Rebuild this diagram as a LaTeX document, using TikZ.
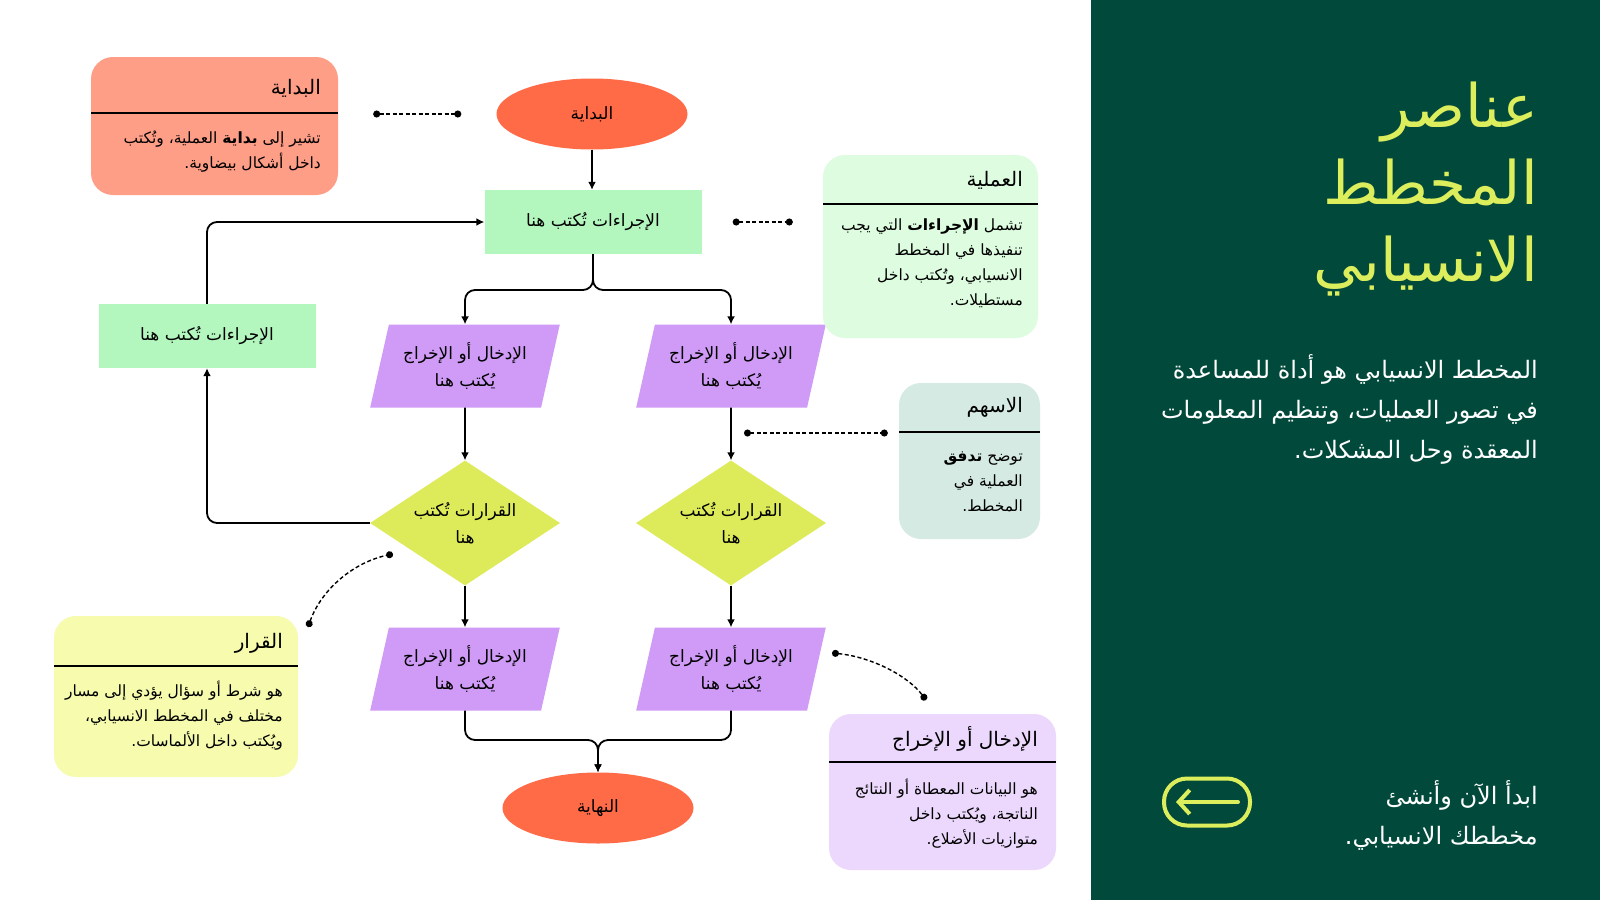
\documentclass[tikz,border=0pt]{standalone}
\usepackage{fontspec}
\usetikzlibrary{shapes.geometric,arrows.meta,positioning,calc}
\newfontfamily\arabicfont[Script=Arabic]{DejaVu Sans}
\TeXXeTstate=1
\newcommand{\artext}[1]{\beginR #1\endR}

\definecolor{panel}{HTML}{014A3B}
\definecolor{accent}{HTML}{DDEE5C}
\definecolor{ovalfill}{HTML}{FF6A47}
\definecolor{procfill}{HTML}{B3F7BF}
\definecolor{iofill}{HTML}{CF9BF6}
\definecolor{decfill}{HTML}{DDEB5B}
\definecolor{startnote}{HTML}{FF9E86}
\definecolor{procnote}{HTML}{DEFDE0}
\definecolor{arrownote}{HTML}{D5EAE3}
\definecolor{decnote}{HTML}{F6FBAE}
\definecolor{ionote}{HTML}{EBD8FC}

\tikzset{
  flow/.style={line width=1.8pt,->,rounded corners=10pt},
  note/.style={line width=1.4pt,dash pattern=on 4pt off 2.5pt,
    {Circle[length=7pt]}-{Circle[length=7pt]}},
  shapetext/.style={font=\arabicfont\fontsize{17}{27}\selectfont,align=center,inner sep=0pt},
  oval/.style={shapetext,ellipse,fill=ovalfill,minimum width=191pt,minimum height=71pt},
  proc/.style={shapetext,rectangle,fill=procfill,minimum width=217pt,minimum height=64pt},
  io/.style={shapetext,trapezium,trapezium left angle=72,trapezium right angle=108,
    trapezium stretches=true,fill=iofill,minimum width=190pt,minimum height=83pt},
  dec/.style={shapetext,diamond,aspect=1.5,fill=decfill,minimum width=190pt,minimum height=125pt},
  infobox/.style={rectangle,rounded corners=22pt},
  infotitle/.style={anchor=east,inner sep=0pt,font=\arabicfont\fontsize{20}{24}\selectfont},
  infotext/.style={anchor=north east,inner sep=0pt,align=right,
    font=\arabicfont\fontsize{15.5}{25}\selectfont},
  sep/.style={line width=1.4pt},
}

\begin{document}
\begin{tikzpicture}[x=1pt,y=-1pt,>={Latex[length=8pt,width=8pt]}]
\useasboundingbox (0,0) rectangle (1600,900);
\fill[white] (0,0) rectangle (1600,900);
\fill[panel] (1091,0) rectangle (1600,900);

% flow chart
\node[oval] (start) at (592,114) {\artext{البداية}};
\node[proc] (p1) at (593,222) {\artext{الإجراءات تُكتب هنا}};
\node[io] (io1) at (465,366) {\artext{الإدخال أو الإخراج}\\\artext{يُكتب هنا}};
\node[io] (io2) at (731,366) {\artext{الإدخال أو الإخراج}\\\artext{يُكتب هنا}};
\node[dec] (d1) at (465,523) {\artext{القرارات تُكتب}\\\artext{هنا}};
\node[dec] (d2) at (731,523) {\artext{القرارات تُكتب}\\\artext{هنا}};
\node[io] (io3) at (465,669) {\artext{الإدخال أو الإخراج}\\\artext{يُكتب هنا}};
\node[io] (io4) at (731,669) {\artext{الإدخال أو الإخراج}\\\artext{يُكتب هنا}};
\node[proc] (p2) at (207,336) {\artext{الإجراءات تُكتب هنا}};
\node[oval] (finish) at (598,808) {\artext{النهاية}};
\coordinate (split) at (593,290);
\coordinate (merge) at (598,740);

\draw[flow] (start.south) -- (start.south |- p1.north);
\draw[flow] (p1.south) -- (split) -| (io1.north);
\draw[flow] (p1.south) -- (split) -| (io2.north);
\draw[flow] (io1) -- (d1);
\draw[flow] (io2) -- (d2);
\draw[flow] (d1) -- (io3);
\draw[flow] (d2) -- (io4);
\draw[flow] (io3.south) |- (merge) -- (finish.north);
\draw[flow] (io4.south) |- (merge) -- (finish.north);
\draw[flow] (d1.west) -| (p2.south);
\draw[flow] (p2.north) |- (p1.west);

% info boxes
\node[infobox,fill=startnote,minimum width=247pt,minimum height=138pt] (b1) at (214.5,126) {};
\node[infotitle] (b1title) at (321,88) {\artext{البداية}};
\draw[sep] (b1.west |- 0,113) -- (b1.east |- 0,113);
\node[infotext] (b1text) at (321,131) {\artext{تشير إلى \textbf{بداية} العملية، وتُكتب}\\\artext{داخل أشكال بيضاوية.}};

\node[infobox,fill=procnote,minimum width=215pt,minimum height=183pt] (b2) at (930.5,246.5) {};
\node[infotitle] (b2title) at (1023,180) {\artext{العملية}};
\draw[sep] (b2.west |- 0,204) -- (b2.east |- 0,204);
\node[infotext] (b2text) at (1023,219) {\artext{تشمل \textbf{الإجراءات} التي يجب}\\\artext{تنفيذها في المخطط}\\\artext{الانسيابي، وتُكتب داخل}\\\artext{مستطيلات.}};

\node[infobox,fill=arrownote,minimum width=141pt,minimum height=156pt] (b3) at (969.5,461) {};
\node[infotitle] (b3title) at (1023,407) {\artext{الاسهم}};
\draw[sep] (b3.west |- 0,432) -- (b3.east |- 0,432);
\node[infotext] (b3text) at (1023,452) {\artext{توضح \textbf{تدفق}}\\\artext{العملية في}\\\artext{المخطط.}};

\node[infobox,fill=decnote,minimum width=244pt,minimum height=161pt] (b4) at (176,696.5) {};
\node[infotitle] (b4title) at (283,643) {\artext{القرار}};
\draw[sep] (b4.west |- 0,666) -- (b4.east |- 0,666);
\node[infotext] (b4text) at (283,681) {\artext{هو شرط أو سؤال يؤدي إلى مسار}\\\artext{مختلف في المخطط الانسيابي،}\\\artext{ويُكتب داخل الألماسات.}};

\node[infobox,fill=ionote,minimum width=227pt,minimum height=156pt] (b5) at (942.5,792) {};
\node[infotitle] (b5title) at (1038,739) {\artext{الإدخال أو الإخراج}};
\draw[sep] (b5.west |- 0,762) -- (b5.east |- 0,762);
\node[infotext] (b5text) at (1038,779) {\artext{هو البيانات المعطاة أو النتائج}\\\artext{الناتجة، ويُكتب داخل}\\\artext{متوازيات الأضلاع.}};

% pointers
\draw[note,shorten <=35pt,shorten >=35pt] (b1.east |- start.west) -- (start.west);
\draw[note,shorten <=31pt,shorten >=30pt] (p1.east) -- (p1.east -| b2.west);
\coordinate (a3) at (744,433);
\draw[note,shorten >=11pt] (a3) -- (a3 -| b3.west);
\coordinate (a4) at (308,627);
\coordinate (c4) at (393,554);
\draw[note] (a4) .. controls (322,588) and (355,562) .. (c4);
\coordinate (a5) at (832,653);
\coordinate (c5) at (926,700);
\draw[note] (a5) .. controls (872,657) and (908,676) .. (c5);

% side panel
\node[anchor=east,align=right,inner sep=0pt,text=accent,
  font=\arabicfont\fontsize{60}{77}\selectfont] (title) at (1538,189)
  {\artext{عناصر}\\\artext{المخطط}\\\artext{الانسيابي}};
\node[anchor=east,align=right,inner sep=0pt,text=white,
  font=\arabicfont\fontsize{24}{40}\selectfont] (intro) at (1538,409)
  {\artext{المخطط الانسيابي هو أداة للمساعدة}\\\artext{في تصور العمليات، وتنظيم المعلومات}\\\artext{المعقدة وحل المشكلات.}};
\node[anchor=east,align=right,inner sep=0pt,text=white,
  font=\arabicfont\fontsize{24}{40}\selectfont] (cta) at (1538,815)
  {\artext{ابدأ الآن وأنشئ}\\\artext{مخططك الانسيابي.}};
\node[draw=accent,line width=4pt,rounded corners=23pt,minimum width=86pt,
  minimum height=47pt] (btn) at (1207,802) {};
\draw[accent,line width=4pt,line cap=round,-{Straight Barb[length=11pt,width=24pt]}]
  ([xshift=-14pt]btn.east) -- ([xshift=14pt]btn.west);
\end{tikzpicture}
\end{document}
